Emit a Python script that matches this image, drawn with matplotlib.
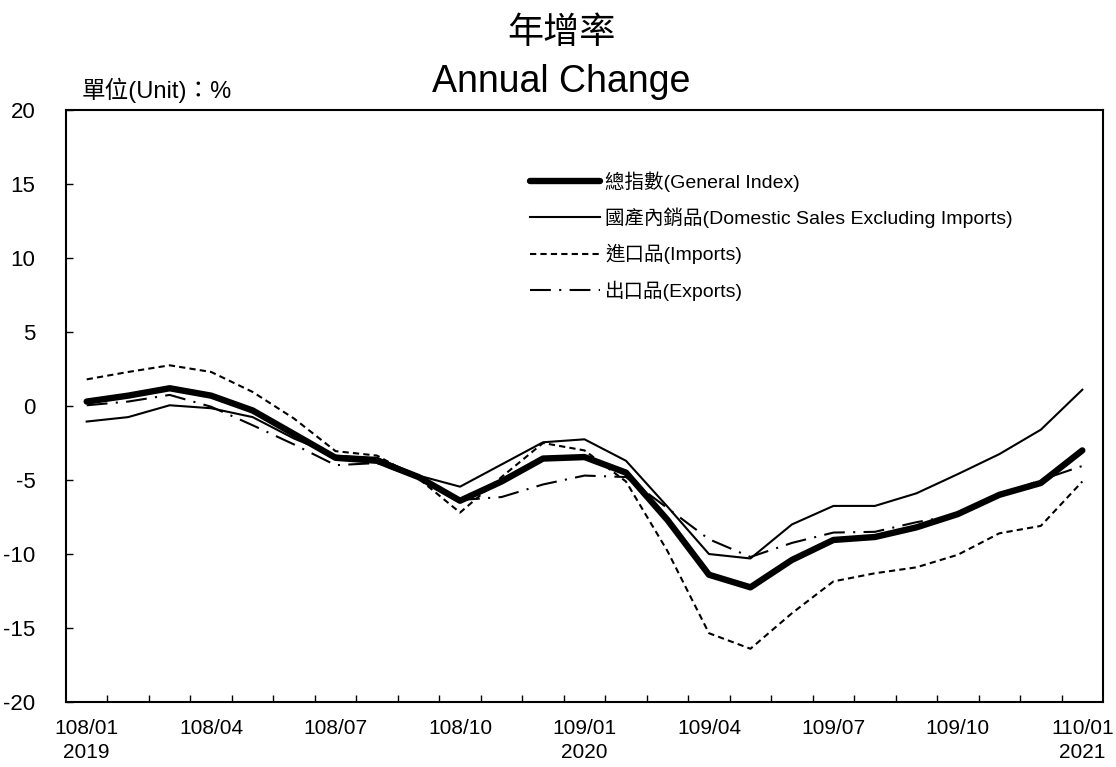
import matplotlib
matplotlib.use('Agg')
import matplotlib.pyplot as plt
import numpy as np

# Monthly annual change (%), 108/01 (2019-01) .. 110/01 (2021-01)
months = ['108/01', '108/02', '108/03', '108/04', '108/05', '108/06', '108/07',
          '108/08', '108/09', '108/10', '108/11', '108/12', '109/01', '109/02',
          '109/03', '109/04', '109/05', '109/06', '109/07', '109/08', '109/09',
          '109/10', '109/11', '109/12', '110/01']
years = {'108/01': '2019', '109/01': '2020', '110/01': '2021'}

general = [0.3, 0.7, 1.2, 0.7, -0.3, -1.9, -3.5, -3.7, -4.8, -6.4, -5.1, -3.55,
           -3.45, -4.5, -7.7, -11.4, -12.25, -10.4, -9.05, -8.85, -8.2, -7.3,
           -6.0, -5.2, -3.0]
domestic = [-1.05, -0.75, 0.05, -0.15, -0.75, -2.2, -3.35, -3.5, -4.7, -5.45,
            -3.95, -2.45, -2.25, -3.7, -6.8, -10.0, -10.3, -8.0, -6.75, -6.75,
            -5.9, -4.6, -3.25, -1.6, 1.1]
imports = [1.8, 2.3, 2.75, 2.3, 0.95, -0.85, -3.05, -3.35, -4.9, -7.2, -4.8,
           -2.5, -3.0, -5.1, -9.8, -15.35, -16.4, -14.0, -11.85, -11.3, -10.9,
           -10.05, -8.6, -8.1, -5.1]
exports = [0.05, 0.3, 0.75, -0.05, -1.3, -2.6, -4.0, -3.85, -4.9, -6.35, -6.15,
           -5.3, -4.7, -4.8, -6.9, -9.0, -10.2, -9.25, -8.55, -8.5, -7.85,
           -7.35, -6.05, -5.0, -4.05]

labels = ['總指數(General Index)',
          '國產內銷品(Domestic Sales Excluding Imports)',
          '進口品(Imports)',
          '出口品(Exports)']

plt.rcParams['font.family'] = ['Liberation Sans', 'Noto Sans CJK TC']
plt.rcParams['axes.unicode_minus'] = False

fig = plt.figure(figsize=(11.16, 7.67), dpi=100, facecolor='w')
ax = fig.add_axes([0.0591, 0.0847, 0.9293, 0.7719])

x = np.arange(len(months))
ax.plot(x, general, color='black', linewidth=4.6, solid_capstyle='round',
        label=labels[0], zorder=4)
ax.plot(x, domestic, color='black', linewidth=1.5, label=labels[1], zorder=3)
ax.plot(x, imports, color='black', linewidth=1.5, linestyle=(0, (3, 2)),
        label=labels[2], zorder=3)
ax.plot(x, exports, color='black', linewidth=1.5, linestyle=(0, (10, 4, 1, 4)),
        label=labels[3], zorder=3)

ax.set_xlim(-0.5, len(months) - 0.5)
ax.set_ylim(-20, 20)
ax.set_yticks(np.arange(-20, 21, 5))

# labels every 3 months, tick marks between categories
lab_idx = list(range(0, len(months), 3))
ax.set_xticks(lab_idx)
ax.set_xticklabels([months[i] + ('\n' + years[months[i]] if months[i] in years else '')
                    for i in lab_idx], fontsize=15, linespacing=1.35)
ax.set_xticks(np.arange(0.5, len(months) - 1, 1), minor=True)
ax.tick_params(axis='x', which='major', length=0, pad=12)
ax.tick_params(axis='x', which='minor', direction='in', length=5, width=1)
ax.tick_params(axis='y', direction='in', length=5, width=1, pad=22, labelsize=16)

for sp in ax.spines.values():
    sp.set_linewidth(1.5)

fig.text(0.503, 0.956, '年增率', ha='center', va='center', fontsize=26)
fig.text(0.503, 0.893, 'Annual Change', ha='center', va='center', fontsize=27)
fig.text(0.073, 0.882, '單位(Unit)：%', ha='left', va='center', fontsize=17)

ax.legend(loc='upper left', bbox_to_anchor=(0.447, 0.897), frameon=False,
          fontsize=14, handlelength=3.6, handletextpad=0.3, labelspacing=0.82,
          borderpad=0, borderaxespad=0)

plt.savefig('out.png', dpi=100)
